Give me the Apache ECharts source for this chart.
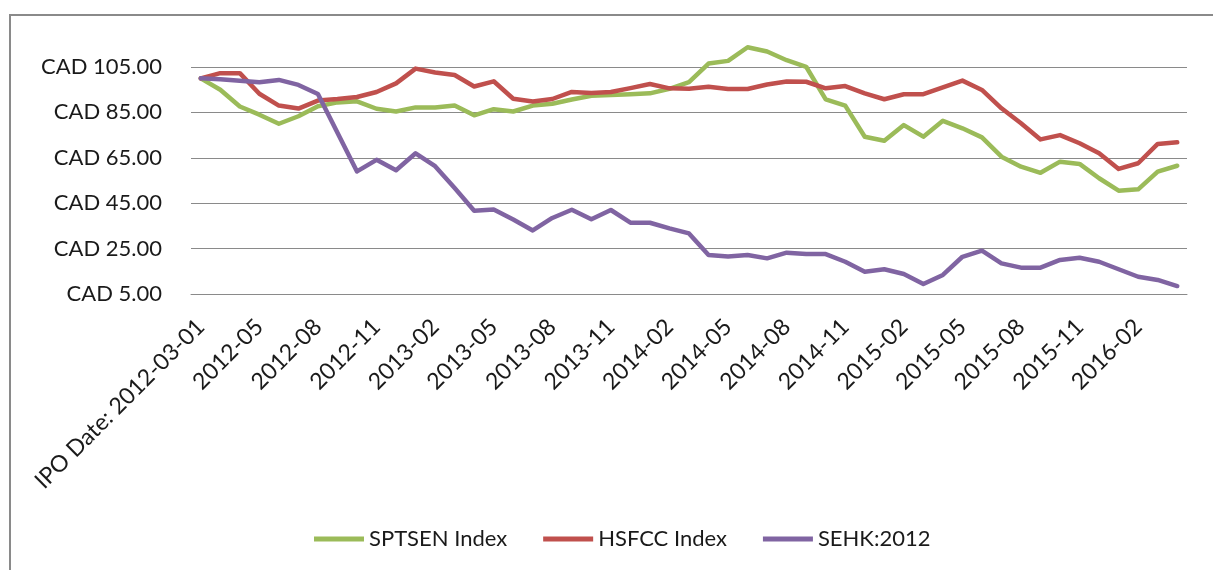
<!DOCTYPE html>
<html>
<head>
<meta charset="utf-8">
<script src="https://cdn.jsdelivr.net/npm/echarts@6/dist/echarts.min.js"></script>
<style>
    html, body { margin: 0; padding: 0; background: #fff; }
    #main { width: 1213px; height: 570px; }
</style>
</head>
<body>
<div id="main"></div>
<script>
// monthly points, first one is the IPO date
var categories = [
    'IPO Date: 2012-03-01',
    '2012-03', '2012-04', '2012-05', '2012-06', '2012-07', '2012-08', '2012-09', '2012-10', '2012-11', '2012-12',
    '2013-01', '2013-02', '2013-03', '2013-04', '2013-05', '2013-06', '2013-07', '2013-08', '2013-09', '2013-10', '2013-11', '2013-12',
    '2014-01', '2014-02', '2014-03', '2014-04', '2014-05', '2014-06', '2014-07', '2014-08', '2014-09', '2014-10', '2014-11', '2014-12',
    '2015-01', '2015-02', '2015-03', '2015-04', '2015-05', '2015-06', '2015-07', '2015-08', '2015-09', '2015-10', '2015-11', '2015-12',
    '2016-01', '2016-02', '2016-03', '2016-04'
]

var sptsen = [100, 95.0, 87.6, 84.0, 80.0, 83.3, 87.7, 89.4, 89.9, 86.6, 85.4,
    87.2, 87.2, 88.0, 83.7, 86.4, 85.4, 88.0, 88.8, 90.7, 92.3,
    92.7, 93.0, 93.4, 95.4, 98.3, 106.5, 107.7, 113.7, 111.8, 108.0, 105.1,
    90.7, 88.0, 74.3, 72.5, 79.4, 74.3, 81.3, 78.0, 74.0, 65.5, 61.1, 58.4, 63.3, 62.3, 56.0, 50.5, 51.1, 58.9, 61.5]

var hsfcc = [100, 102.3, 102.3, 93.2, 88.0, 86.7, 90.2, 90.9, 91.8, 94.0, 97.8,
    104.3, 102.6, 101.5, 96.4, 98.7, 91.0, 89.8, 90.9, 94.0, 93.5,
    94.0, 95.7, 97.5, 95.6, 95.4, 96.3, 95.3, 95.3, 97.3, 98.6, 98.5,
    95.6, 96.6, 93.4, 90.8, 93.0, 93.0, 96.0, 99.0, 94.9, 86.8, 80.2, 73.1, 75.0, 71.4, 67.0, 60.1, 62.6, 71.1, 71.8]

var sehk = [100, 99.6, 98.9, 98.3, 99.3, 97.1, 93.1, 76.0, 59.0, 64.1, 59.5,
    67.0, 61.3, 51.7, 41.7, 42.2, 37.8, 33.0, 38.5, 42.1, 37.9,
    42.0, 36.4, 36.4, 33.9, 31.7, 22.2, 21.5, 22.2, 20.7, 23.2, 22.6,
    22.6, 19.2, 14.8, 15.9, 13.8, 9.4, 13.4, 21.4, 24.1, 18.5, 16.6, 16.6, 20.0, 21.0, 19.2, 15.9, 12.6, 11.2, 8.5]

var seriesNames = ['SPTSEN Index', 'HSFCC Index', 'SEHK:2012']
var seriesColors = ['#9bbb59', '#c0504d', '#8064a2']

var font = 'Lato, Carlito, Calibri, sans-serif'

var chart = echarts.init(document.getElementById('main'), null, { renderer: 'canvas' })

function lineSeries(name, data, color) {
    return {
        name: name,
        type: 'line',
        data: data,
        showSymbol: false,
        symbol: 'none',
        clip: false, // the green peak goes over the top gridline
        lineStyle: { color: color, width: 4.5, join: 'round', cap: 'round' },
        itemStyle: { color: color },
        animation: false,
    }
}

var option = {
    backgroundColor: '#fff',
    animation: false,
    textStyle: { fontFamily: font },
    graphic: [
        {
            type: 'rect',
            shape: { x: 10, y: 15, width: 1240, height: 600 },
            style: { fill: 'none', stroke: '#8a8a8a', lineWidth: 2 },
            silent: true,
        },
    ],
    grid: {
        left: 191,
        right: 26,
        top: 67,
        bottom: 276,
        containLabel: false,
    },
    legend: {
        data: seriesNames,
        left: 309,
        top: 523,
        itemWidth: 50,
        itemHeight: 5,
        itemGap: 36,
        icon: 'rect',
        textStyle: { fontFamily: font, fontSize: 22, color: '#1a1a1a' },
    },
    xAxis: {
        type: 'category',
        data: categories,
        boundaryGap: true,
        axisLine: { show: true, lineStyle: { color: '#8a8a8a', width: 1 } },
        axisTick: { show: false },
        axisLabel: {
            interval: 2,
            rotate: 45,
            margin: 29,
            fontFamily: font,
            fontSize: 23,
            color: '#1a1a1a',
        },
    },
    yAxis: {
        type: 'value',
        min: 5,
        max: 105,
        interval: 20,
        axisLine: { show: false },
        axisTick: { show: false },
        splitLine: { lineStyle: { color: '#8a8a8a', width: 1 } },
        axisLabel: {
            margin: 29,
            fontFamily: font,
            fontSize: 22,
            color: '#1a1a1a',
            formatter: function (v) { return 'CAD ' + v.toFixed(2) },
        },
    },
    series: [
        lineSeries(seriesNames[0], sptsen, seriesColors[0]),
        lineSeries(seriesNames[1], hsfcc, seriesColors[1]),
        lineSeries(seriesNames[2], sehk, seriesColors[2]),
    ],
}
chart.setOption(option)
</script>
</body>
</html>
